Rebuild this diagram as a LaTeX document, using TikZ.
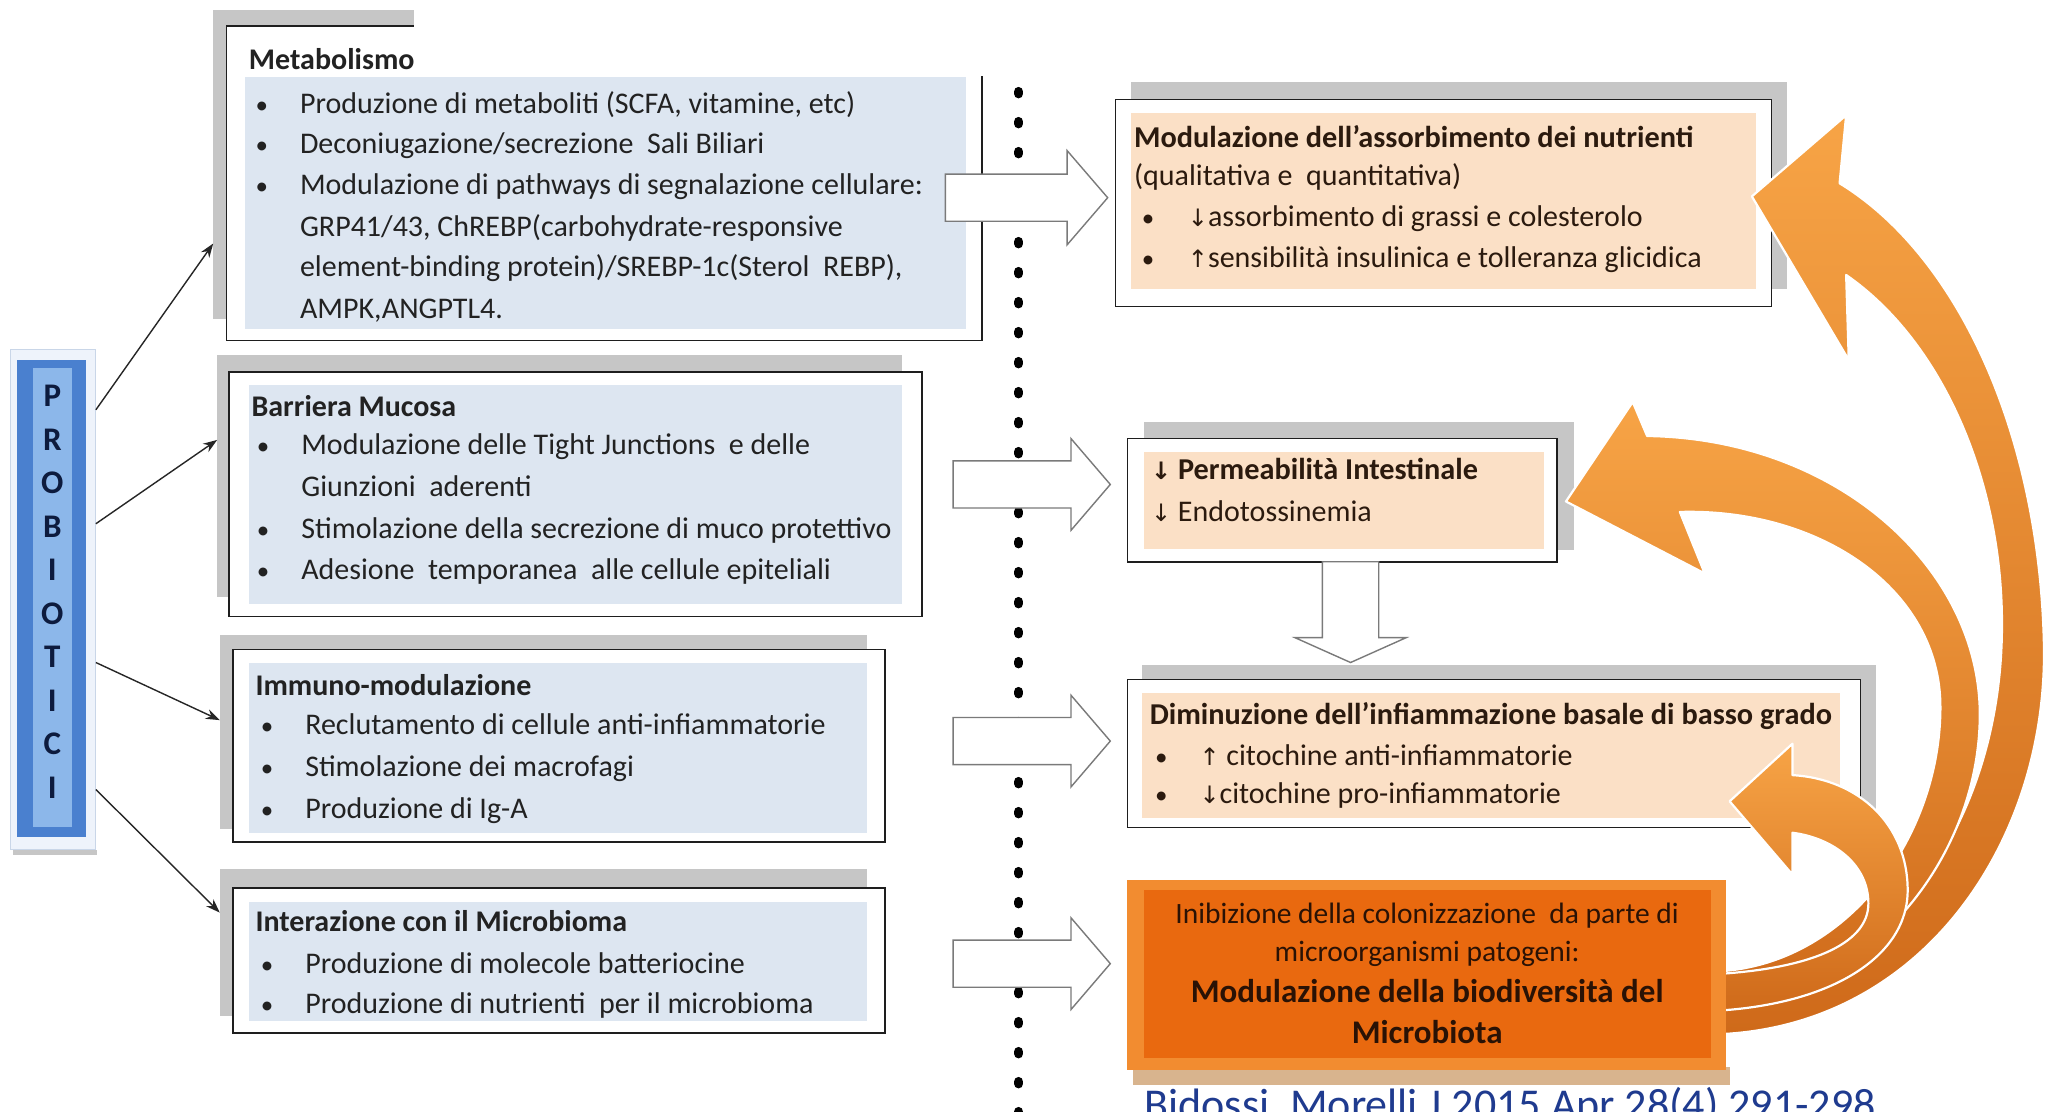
\documentclass[tikz,border=0pt]{standalone}
\usepackage{fontspec}
\setmainfont{Carlito}
\newfontfamily\arrf{DejaVu Sans}
\usetikzlibrary{fit,arrows.meta}
\definecolor{shgrey}{HTML}{C6C6C6}
\definecolor{bordc}{HTML}{1E1E1E}
\definecolor{boxblue}{HTML}{DDE6F1}
\definecolor{peach}{HTML}{FBE0C6}
\definecolor{txtc}{HTML}{222222}
\definecolor{rtxt}{HTML}{2B1A0E}
\definecolor{itxt}{HTML}{2A1205}
\definecolor{arrgrey}{HTML}{7A7A7A}
\definecolor{orl}{HTML}{F7A446}
\definecolor{ord}{HTML}{CF6A1A}
\definecolor{inbout}{HTML}{F28C30}
\definecolor{inbin}{HTML}{E9690F}
\definecolor{inbsh}{HTML}{D8B48E}
\definecolor{probdark}{HTML}{4A80CF}
\definecolor{problight}{HTML}{8CB7EA}
\definecolor{probframe}{HTML}{EEF3FB}
\definecolor{probframeb}{HTML}{C9D6E8}
\definecolor{probtxt}{HTML}{0D1B3E}
\definecolor{citec}{HTML}{1F3B8F}
\newcommand\mybul{\makebox[44.5pt][l]{\fontsize{25}{25}\selectfont\textbullet}}
\newcommand\rbul{\makebox[46pt][l]{\fontsize{25}{25}\selectfont\textbullet}}
\newcommand\myDown{{\arrf\fontsize{24}{28}\selectfont ↓}}
\newcommand\myUp{{\arrf\fontsize{24}{28}\selectfont ↑}}
\newcommand\blockR[6]{\draw[blk] (#1,#4-#5) -- (#2,#4-#5) -- (#2,#4-#6) -- (#3,#4) -- (#2,#4+#6) -- (#2,#4+#5) -- (#1,#4+#5) -- cycle;}
\begin{document}
\begin{tikzpicture}[x=1.3093pt,y=-1.3093pt,
 shadowbox/.style={fill=shgrey,draw=none,inner sep=0pt},
 mainbox/.style={draw=bordc,line width=1.6pt,fill=white,inner sep=0pt},
 bluefill/.style={fill=boxblue,draw=none,inner sep=0pt},
 peachfill/.style={fill=peach,draw=none,inner sep=0pt},
 ln/.style={anchor=west,inner sep=0pt,text height=21pt,text depth=7pt,font=\fontsize{30}{36}\selectfont,text=txtc},
 ttl/.style={ln,font=\fontsize{30}{36}\selectfont\bfseries},
 rln/.style={ln,text=rtxt},
 rttl/.style={ln,font=\fontsize{30.3}{36}\selectfont\bfseries,text=rtxt},
 iln/.style={ln,anchor=center,font=\fontsize{29.5}{34}\selectfont,text=itxt},
 ittl/.style={ln,anchor=center,font=\fontsize{33}{38}\selectfont\bfseries,text=itxt},
 blk/.style={fill=white,draw=arrgrey,line width=1.4pt,line join=miter},
 thinarr/.style={-{Stealth[length=14pt,width=10pt]},line width=1.4pt,draw=black!85},
 orarr/.style={top color=orl,bottom color=ord,draw=white,line width=2.2pt,line join=round},
 dotline/.style={line width=9.5pt,line cap=round,dash pattern=on 2pt off 28pt,draw=black}
]
\clip (0,0) rectangle (1568,849);
\fill[white] (0,0) rectangle (1568,849);

% dotted separator
\draw[dotline] (778,70) -- (778,860);

% ---- left boxes ----
\node[shadowbox,fit={(163,8) (738,244)}] (metsh) {};
\node[mainbox,fit={(173,20) (750,260)}] (met) {};
\node[bluefill,fit={(187,59) (738,251)}] (metfill) {};
\fill[white] (316,0) rectangle (752,58);
\node[ttl] (met0) at (190,48) {Metabolismo};
\node[ln] (met1) at (195,81) {\mybul Produzione di metaboliti (SCFA, vitamine, etc)};
\node[ln] (met2) at (195,112) {\mybul Deconiugazione/secrezione\ \ Sali Biliari};
\node[ln] (met3) at (195,143) {\mybul Modulazione di pathways di segnalazione cellulare:};
\node[ln] (met4) at (229,175) {GRP41/43, ChREBP(carbohydrate-responsive};
\node[ln] (met5) at (229,206) {element-binding protein)/SREBP-1c(Sterol\ \ REBP),};
\node[ln] (met6) at (229,238) {AMPK,ANGPTL4.};

\node[shadowbox,fit={(166,271) (689,456)}] (barsh) {};
\node[mainbox,fit={(175,284) (704,471)}] (bar) {};
\node[bluefill,fit={(190,294) (689,461)}] (barfill) {};
\node[ttl] (bar0) at (192,313) {Barriera Mucosa};
\node[ln] (bar1) at (196,342) {\mybul Modulazione delle Tight Junctions\ \ e delle};
\node[ln] (bar2) at (230,374) {Giunzioni\ \ aderenti};
\node[ln] (bar3) at (196,406) {\mybul Stimolazione della secrezione di muco protettivo};
\node[ln] (bar4) at (196,437) {\mybul Adesione\ \ temporanea\ \ alle cellule epiteliali};

\node[shadowbox,fit={(168,485) (662,633)}] (immsh) {};
\node[mainbox,fit={(178,496) (676,643)}] (imm) {};
\node[bluefill,fit={(190,506) (662,636)}] (immfill) {};
\node[ttl] (imm0) at (195,526) {Immuno-modulazione};
\node[ln] (imm1) at (199,556) {\mybul Reclutamento di cellule anti-infiammatorie};
\node[ln] (imm2) at (199,588) {\mybul Stimolazione dei macrofagi};
\node[ln] (imm3) at (199,620) {\mybul Produzione di Ig-A};

\node[shadowbox,fit={(168,664) (662,776)}] (intsh) {};
\node[mainbox,fit={(178,678) (676,789)}] (int) {};
\node[bluefill,fit={(190,689) (662,780)}] (intfill) {};
\node[ttl] (int0) at (195,706) {Interazione con il Microbioma};
\node[ln] (int1) at (199,738) {\mybul Produzione di molecole batteriocine};
\node[ln] (int2) at (199,769) {\mybul Produzione di nutrienti\ \ per il microbioma};

% ---- block arrows ----
\blockR{722}{815}{846}{151}{18}{36}
\blockR{728}{818}{848}{370}{18}{35}
\blockR{728}{818}{848}{566}{18}{35}
\blockR{728}{818}{848}{736}{18}{35}

% ---- right boxes ----
\node[shadowbox,fit={(864,63) (1365,221)}] (modsh) {};
\node[mainbox,fit={(852,76) (1353,234)}] (mod) {};
\node[peachfill,fit={(864,86) (1341,221)}] (modfill) {};
\node[rttl] (mod0) at (866,107) {Modulazione dell’assorbimento dei nutrienti};
\node[rln] (mod1) at (866,136) {(qualitativa e\ \ quantitativa)};
\node[rln] (mod2) at (872,168) {\rbul\myDown assorbimento di grassi e colesterolo};
\node[rln] (mod3) at (872,199) {\rbul\myUp sensibilità insulinica e tolleranza glicidica};

\node[shadowbox,fit={(874,322) (1202,420)}] (persh) {};
\node[mainbox,fit={(861,335) (1189,429)}] (per) {};
\node[peachfill,fit={(874,345) (1179,419)}] (perfill) {};
\node[rttl] (per0) at (879,361) {\myDown\ Permeabilità Intestinale};
\node[rln] (per1) at (879,393) {\myDown\ Endotossinemia};

\node[shadowbox,fit={(872,508) (1433,620)}] (dimsh) {};
\node[mainbox,fit={(861,519) (1421,632)}] (dim) {};
\node[peachfill,fit={(872,529) (1405,625)}] (dimfill) {};
\node[rttl] (dim0) at (878,548) {Diminuzione dell’infiammazione basale di basso grado};
\node[rln] (dim1) at (882,579) {\mybul\myUp\ citochine anti-infiammatorie};
\node[rln] (dim2) at (882,608) {\mybul\myDown citochine pro-infiammatorie};

% down block arrow
\draw[blk] (1010,429) -- (1053,429) -- (1053,487) -- (1074,487) -- (1031.5,506) -- (989,487) -- (1010,487) -- cycle;

% ---- orange curved arrows ----
\path[orarr] (1310,790) .. controls (1470,785) and (1565,640) .. (1561,490)
  .. controls (1557,330) and (1495,195) .. (1405,140) -- (1410,88) -- (1338,150) -- (1412,275) -- (1410,210)
  .. controls (1485,262) and (1530,370) .. (1529,480)
  .. controls (1528,630) and (1440,755) .. (1310,762) -- cycle;
\path[orarr] (1310,768) .. controls (1430,762) and (1515,650) .. (1512,540)
  .. controls (1508,430) and (1400,335) .. (1258,333) -- (1247,307) -- (1196,383) -- (1302,438) -- (1283,391)
  .. controls (1390,388) and (1482,450) .. (1482,540)
  .. controls (1482,640) and (1410,738) .. (1310,742) -- cycle;
\path[orarr] (1310,772) .. controls (1400,767) and (1457,730) .. (1457,680)
  .. controls (1457,630) and (1420,595) .. (1369,592) -- (1369,568) -- (1321,612) -- (1369,668) -- (1369,636)
  .. controls (1400,640) and (1427,660) .. (1427,690)
  .. controls (1427,722) and (1380,740) .. (1310,744) -- cycle;

% ---- inibizione box ----
\fill[inbsh] (865,815) rectangle (1321,829);
\node[fit={(861,672) (1318,817)},fill=inbout,inner sep=0pt] (inb) {};
\node[fit={(874,680) (1307,808)},fill=inbin,inner sep=0pt] (inbin) {};
\node[iln] (inb1) at (1090,700) {Inibizione della colonizzazione\ \ da parte di};
\node[iln] (inb2) at (1090,729) {microorganismi patogeni:};
\node[ittl] (inb3) at (1090,760) {Modulazione della biodiversità del};
\node[ittl] (inb4) at (1090,792) {Microbiota};

% ---- citation (cut by the picture edge, as in the reference) ----
\node[anchor=base west,inner sep=0pt,font=\fontsize{44}{44}\selectfont,text=citec] (cite) at (874,855) {Bidossi, Morelli J 2015 Apr 28(4) 291-298};

% ---- PROBIOTICI ----
\fill[shgrey] (10,649) rectangle (74,653);
\node[fit={(8,267) (73,649)},fill=probframe,draw=probframeb,line width=0.6pt,inner sep=0pt] (probframe) {};
\node[fit={(13,275) (66,639)},fill=probdark,inner sep=0pt] (prob) {};
\node[fit={(25,281) (55,632)},fill=problight,inner sep=0pt] (probin) {};
\node[font=\fontsize{33}{43.5}\selectfont\bfseries,text=probtxt,align=center,inner sep=0pt] (probtxt) at (40,452) {P\\R\\O\\B\\I\\O\\T\\I\\C\\I};

\draw[thinarr] (probframe.east |- 0,313) -- (metsh.west |- 0,186);
\draw[thinarr] (probframe.east |- 0,400) -- (barsh.west |- 0,336);
\draw[thinarr] (probframe.east |- 0,506) -- (immsh.west |- 0,550);
\draw[thinarr] (probframe.east |- 0,603) -- (intsh.west |- 0,697);
\end{tikzpicture}
\end{document}
